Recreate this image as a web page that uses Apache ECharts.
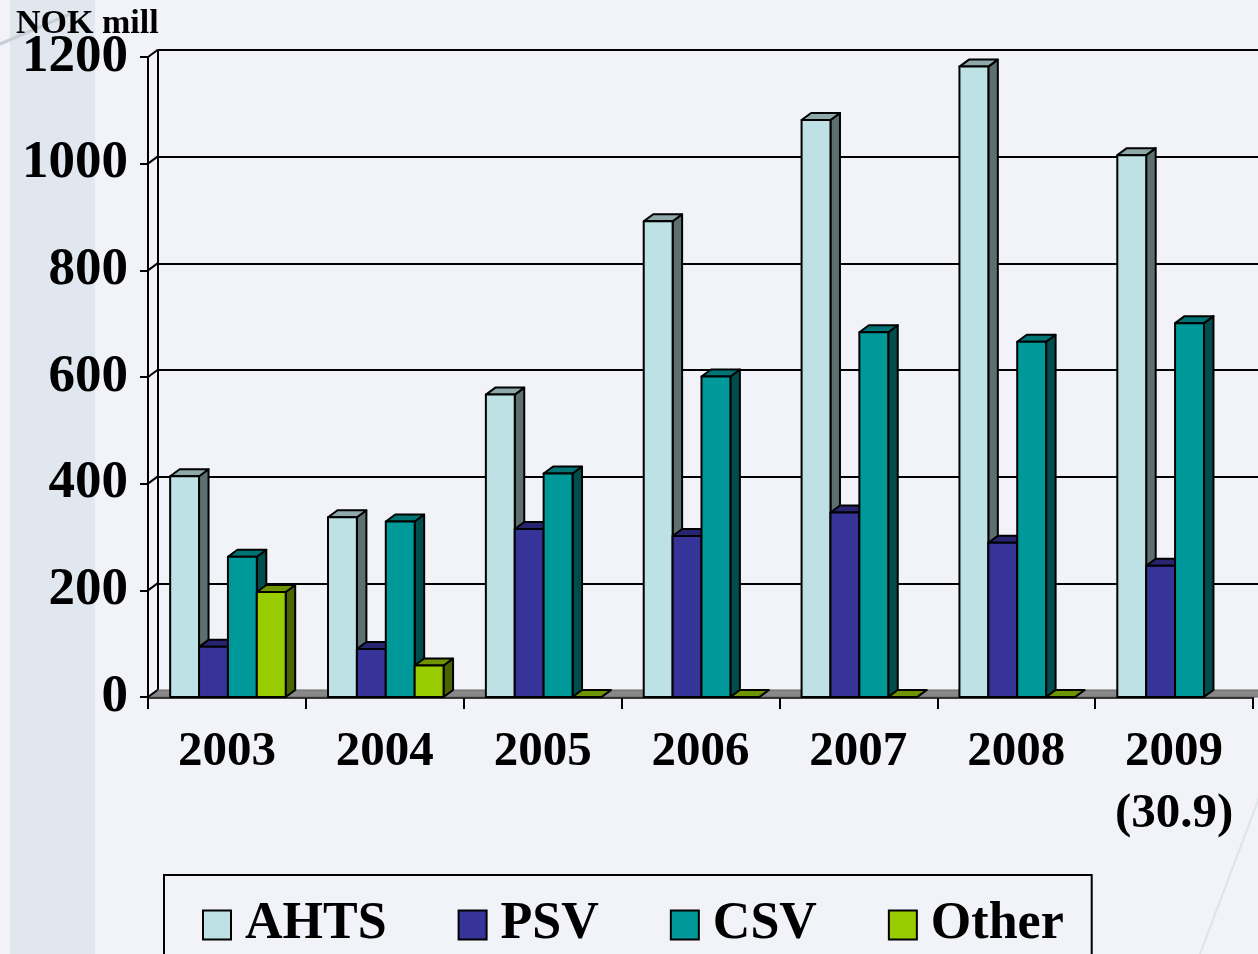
<!DOCTYPE html>
<html>
<head>
<meta charset="utf-8">
<script src="https://cdn.jsdelivr.net/npm/echarts@6/dist/echarts.min.js"></script>
<style>
html,body{margin:0;padding:0;background:#f1f3f9;}
#chart{width:1258px;height:954px;}
</style>
</head>
<body>
<div id="chart"></div>
<script>
const years = ['2003','2004','2005','2006','2007','2008','2009\n(30.9)'];
const yTicks = [0,200,400,600,800,1000,1200];
const seriesNames = ['AHTS','PSV','CSV','Other'];
const ahts  = [414, 337, 567, 892, 1082, 1182, 1016];
const psv   = [94, 90, 315, 302, 346, 289, 246];
const csv   = [263, 329, 419, 601, 684, 666, 701];
const other = [197, 59, 0, 0, 0, 0, null];

const values = [ahts, psv, csv, other];
const faces = [
  {front:'#bde1e4', top:'#8fa8aa', side:'#5e6f70'},
  {front:'#363399', top:'#27256f', side:'#1e1c55'},
  {front:'#009999', top:'#007474', side:'#004d4d'},
  {front:'#99cc00', top:'#6e9400', side:'#4a6400'}
];
const DX = 9.5, DY = -7;
const FONT = '"Liberation Serif","Times New Roman",serif';

const chart = echarts.init(document.getElementById('chart'), null, {renderer:'canvas'});

function barRenderer(k){
  return function(params, api){
    const cat = api.value(0), v = api.value(1);
    if (v === null || v === undefined || isNaN(v)) return;
    const base = api.coord([cat, 0]);
    const top = api.coord([cat, v]);
    const band = api.size([1, 0])[0];
    const bw = band * 0.183;
    const L = base[0] - 2 * bw + k * bw + 1;
    const R = L + bw;
    const yT = top[1], yB = base[1];
    const c = faces[k];
    const ls = {stroke:'#000', lineWidth:2, lineJoin:'round'};
    return {
      type:'group',
      children:[
        {type:'polygon', shape:{points:[[R,yT],[R+DX,yT+DY],[R+DX,yB+DY],[R,yB]]}, style:Object.assign({fill:c.side}, ls)},
        {type:'polygon', shape:{points:[[L,yT],[R,yT],[R+DX,yT+DY],[L+DX,yT+DY]]}, style:Object.assign({fill:c.top}, ls)},
        {type:'rect', shape:{x:L, y:yT, width:bw, height:yB-yT}, style:Object.assign({fill:c.front}, ls)}
      ]
    };
  };
}

const barSeries = seriesNames.map((name, k) => ({
  name: name,
  type: 'custom',
  xAxisIndex: 0, yAxisIndex: 0,
  z: 5,
  itemStyle: {color: faces[k].front},
  renderItem: barRenderer(k),
  data: values[k].map((v, i) => [i, v]),
  encode: {x: 0, y: 1},
  clip: false
}));

const floorSeries = {
  type: 'custom',
  xAxisIndex: 0, yAxisIndex: 0,
  z: 3,
  silent: true,
  renderItem: function(params, api){
    const cs = params.coordSys;
    const v = api.value(0);
    const p = api.coord([0, v]);
    const x0 = cs.x;
    const children = [
      {type:'line', shape:{x1:x0, y1:p[1], x2:x0+DX, y2:p[1]+DY}, style:{stroke:'#000', lineWidth:2}}
    ];
    if (v === 0) {
      children.unshift({type:'polygon', shape:{points:[[x0,p[1]],[x0+cs.width+20,p[1]],[x0+cs.width+20+DX,p[1]+DY],[x0+DX,p[1]+DY]]},
        style:{fill:'#888888', stroke:'#666', lineWidth:1}});
    }
    return {type:'group', children:children};
  },
  data: yTicks.map(v => [v]),
  encode: {y: 0},
  clip: false
};

const option = {
  backgroundColor: '#f1f3f9',
  animation: false,
  title: {
    text: 'NOK mill', left: 11, top: 2,
    textStyle: {fontFamily: FONT, fontWeight: 'bold', fontSize: 34, color: '#000'}
  },
  graphic: [
    {type:'rect', z:-10, silent:true, shape:{x:10, y:0, width:85, height:954}, style:{fill:'#e1e7ee'}},
    {type:'line', z:-9, silent:true, shape:{x1:0, y1:44, x2:70, y2:14}, style:{stroke:'#c9ced6', lineWidth:3}},
    {type:'line', z:-9, silent:true, shape:{x1:1200, y1:954, x2:1262, y2:790}, style:{stroke:'#dde3ea', lineWidth:2}}
  ],
  legend: {
    data: seriesNames.map(n => ({name:n, icon:'rect'})),
    left: 164, top: 875,
    orient: 'horizontal',
    itemWidth: 28, itemHeight: 29,
    itemGap: 71,
    padding: [24, 28, 40, 38],
    borderColor: '#000', borderWidth: 2,
    backgroundColor: 'transparent',
    itemStyle: {borderColor:'#000', borderWidth:2},
    textStyle: {fontFamily: FONT, fontWeight: 'bold', fontSize: 52, color: '#000', padding:[0,0,0,9]},
    selectedMode: false
  },
  grid: [
    {left: 148, right: 5, top: 57, bottom: 257, containLabel: false},
    {left: 157.5, right: -4.5, top: 50, bottom: 264, containLabel: false}
  ],
  xAxis: [
    {
      type: 'category', gridIndex: 0, data: years, boundaryGap: true,
      axisLine: {show: true, lineStyle: {color: '#000', width: 2.5}},
      axisTick: {show: true, interval: 0, alignWithLabel: false, length: 12, lineStyle: {color: '#000', width: 2}},
      axisLabel: {interval: 0, margin: 24, fontFamily: FONT, fontWeight: 'bold', fontSize: 49, color: '#000', lineHeight: 62},
      splitLine: {show: false}
    },
    {
      type: 'category', gridIndex: 1, data: years, boundaryGap: true,
      axisLine: {show: false}, axisTick: {show: false}, axisLabel: {show: false}, splitLine: {show: false}
    }
  ],
  yAxis: [
    {
      type: 'value', gridIndex: 0, min: 0, max: 1200, interval: 200,
      axisLine: {show: true, lineStyle: {color: '#000', width: 2}},
      axisTick: {show: true, length: 8, lineStyle: {color: '#000', width: 2}},
      axisLabel: {margin: 20, fontFamily: FONT, fontWeight: 'bold', fontSize: 53, color: '#000', formatter: v => String(v)},
      splitLine: {show: false}
    },
    {
      type: 'value', gridIndex: 1, min: 0, max: 1200, interval: 200,
      axisLine: {show: true, lineStyle: {color: '#000', width: 2}},
      axisTick: {show: false}, axisLabel: {show: false},
      splitLine: {show: true, showMinLine: false, lineStyle: {color: '#000', width: 2}}
    }
  ],
  series: [floorSeries].concat(barSeries)
};
chart.setOption(option);
</script>
</body>
</html>
